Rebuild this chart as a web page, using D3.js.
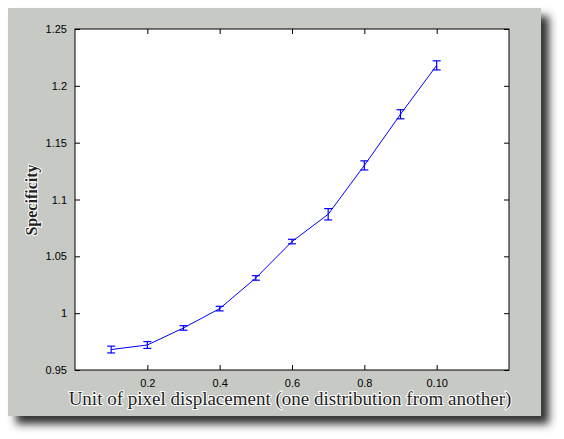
<!DOCTYPE html><html><head><script src="https://cdn.jsdelivr.net/npm/d3@7"></script>
<style>body{margin:0;background:#fff}</style></head><body><svg id="c" width="564" height="439"></svg>
<script>
const xVals=[0.1,0.2,0.3,0.4,0.5,0.6,0.7,0.8,0.9,1.0];
const yVals=[0.968,0.972,0.987,1.004,1.031,1.063,1.087,1.130,1.175,1.218];
const errVals=[0.003,0.003,0.002,0.002,0.002,0.002,0.005,0.004,0.004,0.004];
const xTicks=[0.2,0.4,0.6,0.8,1.0];
const xTickLabels=["0.2","0.4","0.6","0.8","0.10"];
const yTicks=[0.95,1,1.05,1.1,1.15,1.2,1.25];
const svg=d3.select("#c");
const defs=svg.append("defs");
const f=defs.append("filter").attr("id","sh").attr("x","-10%").attr("y","-10%").attr("width","130%").attr("height","130%");
f.append("feGaussianBlur").attr("stdDeviation",4);
svg.append("rect").attr("x",16).attr("y",16).attr("width",533).attr("height",408).attr("fill","#333").attr("filter","url(#sh)");
svg.append("rect").attr("x",8).attr("y",8).attr("width",533).attr("height",408).attr("fill","#c6c9c4");
const L=75,R=509,T=29,B=370;
const x=d3.scaleLinear().domain([0,1.2]).range([L,R]);
const y=d3.scaleLinear().domain([0.95,1.25]).range([B,T]);
svg.append("rect").attr("x",L).attr("y",T).attr("width",R-L).attr("height",B-T).attr("fill","#fff").attr("stroke","#000");
const fmt=d=>String(+d.toFixed(2));
const ax=(g)=>g.selectAll("text").attr("font-family","Liberation Sans, Arial").attr("font-size",11);
svg.append("g").attr("transform",`translate(0,${B})`).call(d3.axisBottom(x).tickValues(xTicks).tickSizeInner(-5).tickSizeOuter(0).tickPadding(9).tickFormat((d,i)=>xTickLabels[i])).call(ax).select(".domain").remove();
svg.append("g").attr("transform",`translate(0,${T})`).call(d3.axisTop(x).tickValues(xTicks).tickSizeInner(-5).tickSizeOuter(0).tickFormat("")).select(".domain").remove();
svg.append("g").attr("transform",`translate(${L},0)`).call(d3.axisLeft(y).tickValues(yTicks).tickSizeInner(-5).tickSizeOuter(0).tickPadding(8).tickFormat(fmt)).call(ax).select(".domain").remove();
svg.append("g").attr("transform",`translate(${R},0)`).call(d3.axisRight(y).tickValues(yTicks).tickSizeInner(-5).tickSizeOuter(0).tickFormat("")).select(".domain").remove();
svg.append("path").datum(xVals.map((v,i)=>[v,yVals[i]])).attr("fill","none").attr("stroke","#00f").attr("stroke-width",1)
 .attr("d",d3.line().x(d=>x(d[0])).y(d=>y(d[1])));
const eb=svg.append("g").attr("stroke","#00f").attr("stroke-width",1.2);
xVals.forEach((v,i)=>{const cx=x(v),y1=y(yVals[i]-errVals[i]),y2=y(yVals[i]+errVals[i]);
 eb.append("line").attr("x1",cx).attr("x2",cx).attr("y1",y1).attr("y2",y2);
 eb.append("line").attr("x1",cx-4).attr("x2",cx+4).attr("y1",y1).attr("y2",y1);
 eb.append("line").attr("x1",cx-4).attr("x2",cx+4).attr("y1",y2).attr("y2",y2);});
svg.append("text").attr("x",290).attr("y",405).attr("text-anchor","middle").attr("font-family","Liberation Serif").attr("font-size",19)
 .attr("fill","#222").style("paint-order","stroke").attr("stroke","#fff").attr("stroke-width",2).text("Unit of pixel displacement (one distribution from another)");
svg.append("text").attr("transform","translate(37,200) rotate(-90)").attr("text-anchor","middle").attr("font-family","Liberation Serif").attr("font-weight","bold").attr("font-size",16)
 .attr("fill","#222").style("paint-order","stroke").attr("stroke","#fff").attr("stroke-width",2).text("Specificity");
</script></body></html>
